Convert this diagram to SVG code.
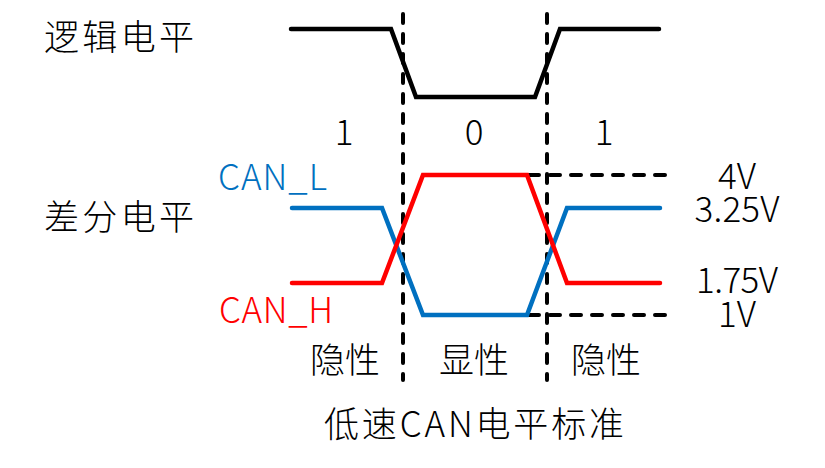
<svg xmlns="http://www.w3.org/2000/svg" width="825" height="468" viewBox="0 0 825 468">
<style>
text{font-family:"Noto Sans CJK SC","Noto Sans",sans-serif;font-size:35px;font-weight:300;fill:#000}
.sig{fill:none;stroke-width:4.5;stroke-linejoin:miter;stroke-linecap:round}
.dash{fill:none;stroke:#000;stroke-width:4;stroke-linecap:round;stroke-dasharray:9 11}
.m{text-anchor:middle}
</style>
<rect width="825" height="468" fill="#fff"/>
<g id="labels">
<text x="44" y="50" font-size="37" textLength="150">逻辑电平</text>
<text x="44" y="230" font-size="37" textLength="150">差分电平</text>
<text class="m" x="344" y="145">1</text>
<text class="m" x="474" y="145">0</text>
<text class="m" x="604" y="145">1</text>
<text x="218" y="190" style="fill:#0070C0" textLength="109">CAN_L</text>
<text x="219" y="323" style="fill:#FF0000" textLength="114">CAN_H</text>
<text class="m" x="737" y="189">4V</text>
<text class="m" x="737" y="222" textLength="85">3.25V</text>
<text class="m" x="737" y="293" textLength="82">1.75V</text>
<text class="m" x="737" y="327">1V</text>
<text class="m" x="345" y="373" font-size="36">隐性</text>
<text class="m" x="474" y="373" font-size="36">显性</text>
<text class="m" x="606" y="373" font-size="36">隐性</text>
<text class="m" x="474" y="437" font-size="36" textLength="300">低速CAN电平标准</text>
</g>
<g id="connectors">
<line class="dash" x1="403" y1="14" x2="403" y2="380"/>
<line class="dash" x1="547" y1="14" x2="547" y2="380"/>
<line class="dash" x1="529" y1="175" x2="673" y2="175" style="stroke-dasharray:10 11"/>
<line class="dash" x1="529" y1="315" x2="673" y2="315" style="stroke-dasharray:10 11"/>
</g>
<g id="logic-level">
<polyline class="sig" stroke="#000" points="291,29 391,29 416,97 535,97 560,29 659,29"/>
</g>
<g id="can-l">
<polyline class="sig" stroke="#0070C0" points="292,208 382,208 423,315 527,315 567,208 660,208"/>
</g>
<g id="can-h">
<polyline class="sig" stroke="#FF0000" points="292,283 382,283 423,175 527,175 567,283 660,283"/>
</g>
</svg>
